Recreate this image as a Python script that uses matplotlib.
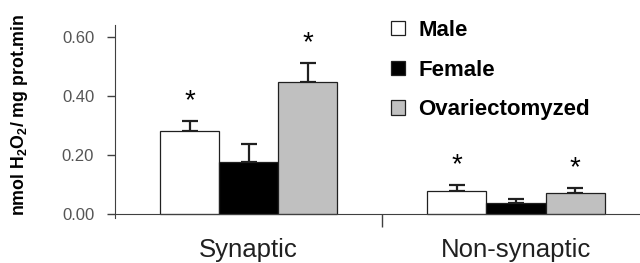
import matplotlib
matplotlib.use('Agg')
import matplotlib.pyplot as plt
import numpy as np

plt.rcParams['font.family'] = 'Liberation Sans'
plt.rcParams['mathtext.fontset'] = 'custom'
plt.rcParams['mathtext.rm'] = 'Liberation Sans:bold'
plt.rcParams['mathtext.it'] = 'Liberation Sans:bold'
plt.rcParams['mathtext.bf'] = 'Liberation Sans:bold'

# data
groups = ['Synaptic', 'Non-synaptic']
series = ['Male', 'Female', 'Ovariectomyzed']
male = [0.281, 0.078]
female = [0.176, 0.037]
ovx = [0.447, 0.071]
male_err = [0.034, 0.020]
female_err = [0.061, 0.014]
ovx_err = [0.065, 0.017]
# significance marks (True = asterisk)
male_sig = [True, True]
female_sig = [False, False]
ovx_sig = [True, True]

colors = ['white', 'black', '#c0c0c0']
axis_col = '#404040'

fig = plt.figure(figsize=(6.4, 2.63), dpi=100)
ax = fig.add_axes([0.1797, 0.171, 0.8203, 0.734])

x = np.arange(len(groups))
w = 0.221
vals = [male, female, ovx]
errs = [male_err, female_err, ovx_err]
sigs = [male_sig, female_sig, ovx_sig]
handles = []
for i in range(3):
    xs = x + (i - 1) * w
    b = ax.bar(xs, vals[i], w, color=colors[i], edgecolor='#202020',
               linewidth=0.9, label=series[i], zorder=2)
    handles.append(b)
    ax.errorbar(xs, vals[i], yerr=[np.zeros(2), errs[i]], fmt='none',
                ecolor='#202020', elinewidth=1.6, capsize=5.5, capthick=1.6,
                zorder=1)
    for j in range(2):
        if sigs[i][j]:
            ax.annotate('*', (xs[j], vals[i][j] + errs[i][j]),
                        xytext=(0, 9), textcoords='offset points',
                        ha='center', va='baseline', fontsize=20)

ax.set_xlim(-0.5, 1.464)
ax.set_ylim(-0.014, 0.64)

for s in ['top', 'right']:
    ax.spines[s].set_visible(False)
ax.spines['bottom'].set_position(('data', 0))
ax.spines['left'].set_color(axis_col)
ax.spines['bottom'].set_color(axis_col)

ax.set_yticks([0, 0.2, 0.4, 0.6])
ax.set_yticklabels(['0.00', '0.20', '0.40', '0.60'])
ax.tick_params(axis='y', length=6, width=1, color=axis_col, pad=9,
               labelsize=12, labelcolor='#555555')

ax.set_xticks([0.5])
ax.set_xticklabels([''])
ax.set_xticks(x, minor=True)
ax.set_xticklabels(groups, minor=True)
ax.tick_params(axis='x', which='major', length=9, width=1, color=axis_col)
ax.tick_params(axis='x', which='minor', length=0, pad=17, labelsize=18.5,
               labelcolor='#202020')

ax.set_ylabel(r'nmol H$_2$O$_2$/ mg prot.min', fontsize=12.8,
              fontweight='bold', va='center', ha='center')
ax.yaxis.set_label_coords(-0.181, 0.534)

leg = ax.legend(handles=handles, loc='upper left',
                bbox_to_anchor=(391 / 640, 1 - 20 / 263),
                bbox_transform=fig.transFigure, frameon=False,
                prop={'weight': 'bold', 'size': 16},
                handlelength=0.62, handleheight=0.62, handletextpad=0.6,
                labelspacing=0.84, borderpad=0, borderaxespad=0)

fig.savefig('out.png', dpi=100)
